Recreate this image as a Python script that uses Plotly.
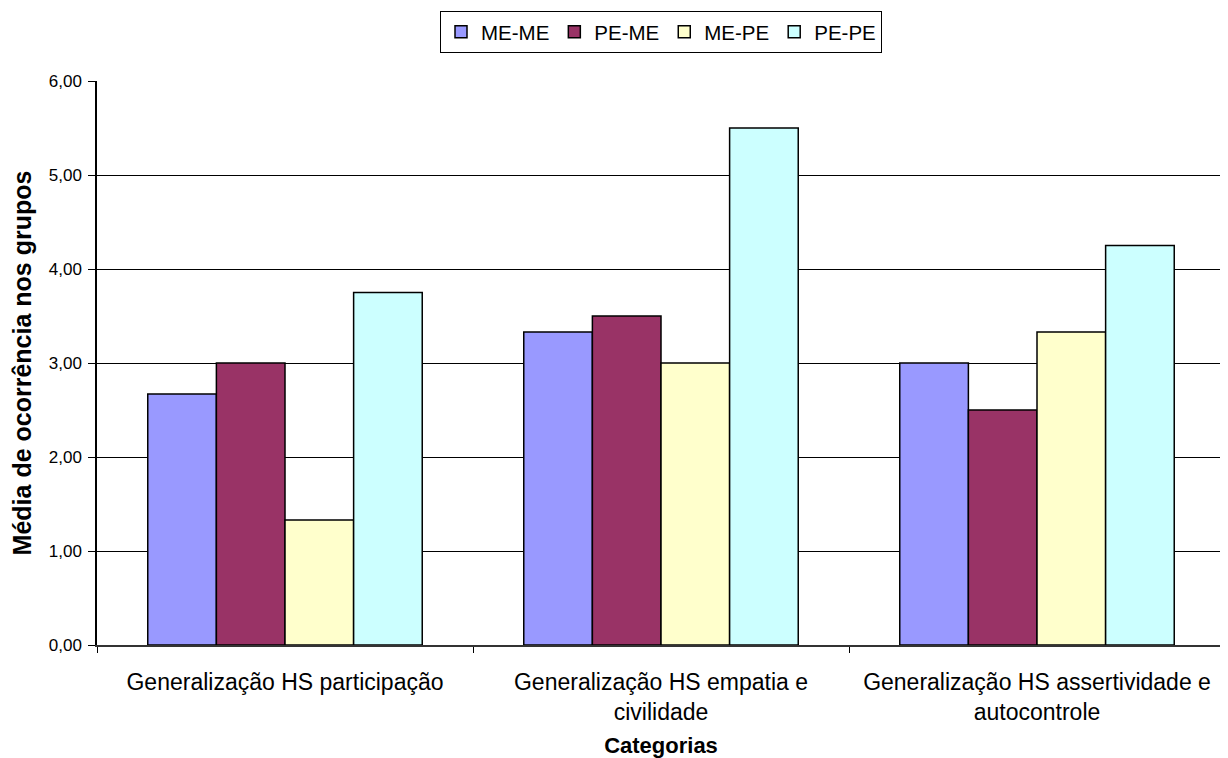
import plotly.graph_objects as go

categories = [
    "Generalização HS participação",
    "Generalização HS empatia e<br>civilidade",
    "Generalização HS assertividade e<br>autocontrole",
]
series_names = ["ME-ME", "PE-ME", "ME-PE", "PE-PE"]
me_me = [2.67, 3.33, 3.00]
pe_me = [3.00, 3.50, 2.50]
me_pe = [1.33, 3.00, 3.33]
pe_pe = [3.75, 5.50, 4.25]
colors = ["#9999FF", "#993366", "#FFFFCC", "#CCFFFF"]
y_ticks = [0, 1, 2, 3, 4, 5, 6]

FONT = "Liberation Sans, Arial, sans-serif"

fig = go.Figure()
for name, vals, col in zip(series_names, [me_me, pe_me, me_pe, pe_pe], colors):
    fig.add_trace(go.Bar(
        name=name, x=categories, y=vals,
        marker=dict(color=col, line=dict(color="#000000", width=1.5)),
    ))

# page body has an 8px default margin, so the figure is offset by 8px
fig.update_layout(
    width=1220, height=750,
    margin=dict(l=89, r=3, t=66, b=113),
    paper_bgcolor="white", plot_bgcolor="white",
    barmode="group", bargap=0.27, bargroupgap=0,
    separators=",.",
    font=dict(family=FONT, color="#000000", size=17),
    legend=dict(
        orientation="h", x=0.5, xanchor="center", y=1.05, yanchor="bottom",
        bordercolor="#000000", borderwidth=1,
        font=dict(size=20.5), itemwidth=30, tracegroupgap=0,
    ),
    xaxis=dict(
        tickson="boundaries", ticks="outside", ticklen=6, tickcolor="#000",
        showline=True, linecolor="#333333", linewidth=2,
        tickfont=dict(size=23), automargin=False, ticklabelstandoff=15,
        title=dict(text="<b>Categorias</b>", font=dict(size=22), standoff=23),
    ),
    yaxis=dict(
        range=[0, 6], tickvals=y_ticks, tickformat=".2f",
        ticks="outside", ticklen=7, tickcolor="#000",
        showline=True, linecolor="#000000", linewidth=1.5,
        showgrid=True, gridcolor="#000000", gridwidth=1,
        tickfont=dict(size=17), automargin=False, ticklabelstandoff=3,
        title=dict(text="<b>Média de ocorrência nos grupos</b>", font=dict(size=25), standoff=13),
        zeroline=False,
    ),
)
fig.add_shape(type="line", xref="paper", yref="paper", x0=1, x1=1, y0=0, y1=1,
              line=dict(color="#808080", width=1))
fig.write_html("out.html")
